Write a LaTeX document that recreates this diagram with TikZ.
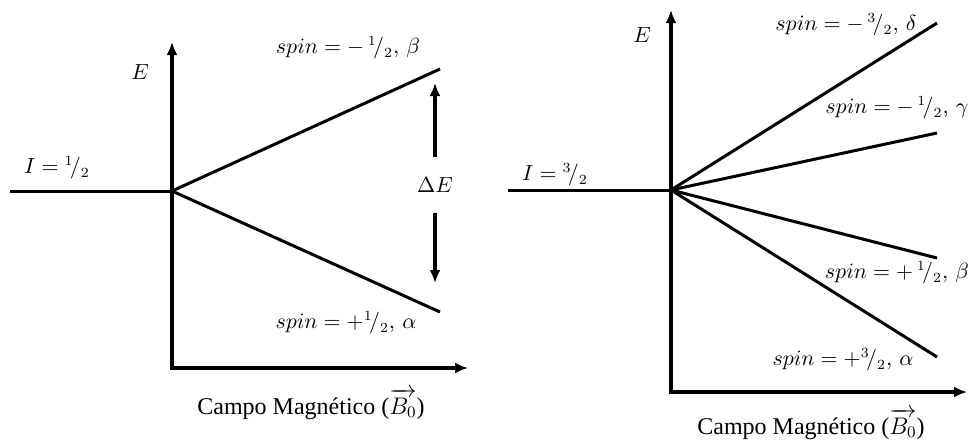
\documentclass[tikz,border=0pt]{standalone}
\usepackage{fontspec}
\setmainfont{Liberation Serif}
\usepackage{amsmath}
\usetikzlibrary{arrows.meta,positioning}
\newcommand{\hfr}[2]{{}^{#1}\!/_{#2}}

\begin{document}
\begin{tikzpicture}[
  x=0.5pt, y=-0.5pt, font=\fontsize{10.5}{12.5}\selectfont, >={Latex[length=6.5pt,width=5.5pt]},
  ax/.style={->, draw=black, line width=1.6pt},
  lvl/.style={draw=black, line width=1.5pt},
  lbl/.style={inner sep=1pt},
  axtitle/.style={font=\fontsize{12}{14}\selectfont, inner sep=1pt}]
\useasboundingbox (0,0) rectangle (968,446);
% I = 1/2
\coordinate (top1) at (172,42); \coordinate (xend1) at (468,368);
\coordinate (lv1) at (10,191); \coordinate (s1) at (172,191);
\coordinate (b1) at (440,69); \coordinate (a1) at (440,312);
\coordinate (dEt) at (435,83); \coordinate (dEb) at (435,283);
\draw[ax, <->] (top1) |- (xend1);
\draw[lvl] (lv1) -- (s1);
\draw[lvl] (s1) -- (b1); \draw[lvl] (s1) -- (a1);
\node[lbl] (E1) at (140,72) {$E$};
\node[lbl] (I1) at (57,168) {$I=\hfr{1}{2}$};
\node[lbl] (lb1) at (348,48) {$spin=-\,\hfr{1}{2},\,\beta$};
\node[lbl] (la1) at (346,323) {$spin={+}\hfr{1}{2},\,\alpha$};
\node[lbl, minimum height=27.5pt] (dE) at (435,185) {$\Delta E$};
\draw[ax] (dE.north) -- (dEt); \draw[ax] (dE.south) -- (dEb);
\node[axtitle] (B1) at (311,404) {Campo Magnético ($\overrightarrow{B_0}$)};
% I = 3/2
\coordinate (top2) at (671,10); \coordinate (xend2) at (967,392);
\coordinate (lv2) at (508,190); \coordinate (s2) at (671,190);
\coordinate (d2) at (937,23); \coordinate (g2) at (937,133);
\coordinate (b2) at (937,258); \coordinate (a2) at (937,357);
\draw[ax, <->] (top2) |- (xend2);
\draw[lvl] (lv2) -- (s2);
\foreach \e in {d2,g2,b2,a2} \draw[lvl] (s2) -- (\e);
\node[lbl] (E2) at (642,35) {$E$};
\node[lbl] (I2) at (555,175) {$I=\hfr{3}{2}$};
\node[lbl] (ld2) at (846,25) {$spin=-\,\hfr{3}{2},\,\delta$};
\node[lbl] (lg2) at (897,108) {$spin=-\,\hfr{1}{2},\,\gamma$};
\node[lbl] (lb2) at (897,273) {$spin=+\,\hfr{1}{2},\,\beta$};
\node[lbl] (la2) at (843,360) {$spin={+}\hfr{3}{2},\,\alpha$};
\node[axtitle] (B2) at (811,424) {Campo Magnético ($\overrightarrow{B_0}$)};
\end{tikzpicture}
\end{document}
